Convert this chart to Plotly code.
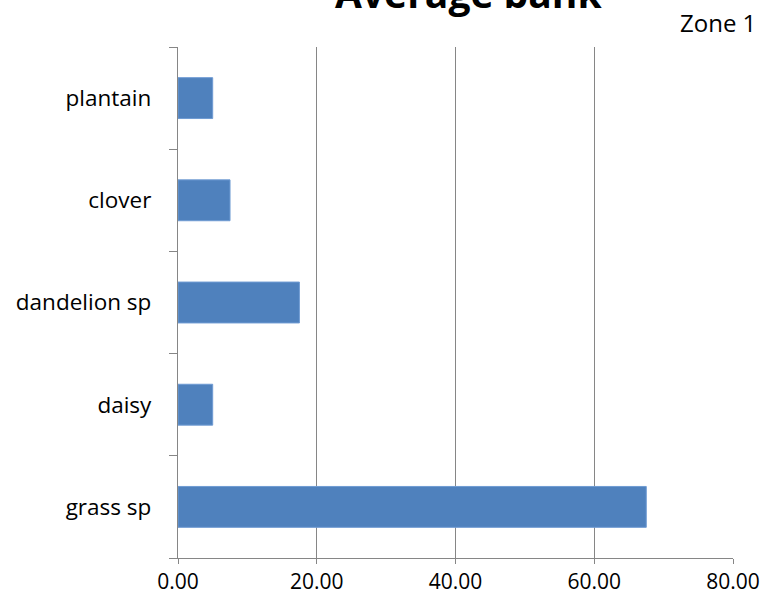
import plotly.graph_objects as go

# Plant species cover, bottom to top
species = ["grass sp", "daisy", "dandelion sp", "clover", "plantain"]
cover = [67.5, 5.0, 17.5, 7.5, 5.0]
series_name = "Zone 1"
chart_title = "Average bank"
x_ticks = [0, 20, 40, 60, 80]
x_tick_labels = ["0.00", "20.00", "40.00", "60.00", "80.00"]

axis_grey = "#868686"
font_family = "Open Sans, sans-serif"

fig = go.Figure(
    go.Bar(
        x=cover,
        y=species,
        orientation="h",
        name=series_name,
        width=0.4,
        marker=dict(color="#4F81BD", line=dict(color="#6F9BD3", width=1)),
    )
)

fig.update_layout(
    width=765,
    height=606,
    margin=dict(l=178, r=32, t=47, b=48, autoexpand=False),
    paper_bgcolor="white",
    plot_bgcolor="white",
    showlegend=False,
    font=dict(family=font_family, size=20, color="black"),
    bargap=0.6,
)

fig.update_xaxes(
    range=[0, 80],
    tickvals=x_ticks,
    ticktext=x_tick_labels,
    showgrid=True,
    gridcolor=axis_grey,
    gridwidth=1.3,
    showline=True,
    linecolor=axis_grey,
    linewidth=1.3,
    ticks="outside",
    ticklen=5,
    tickcolor=axis_grey,
    zeroline=False,
    automargin=False,
    tickfont=dict(size=21),
)

fig.update_yaxes(
    type="category",
    categoryorder="array",
    categoryarray=species,
    showgrid=False,
    showline=True,
    linecolor=axis_grey,
    linewidth=1.3,
    ticks="outside",
    ticklen=8,
    tickcolor=axis_grey,
    tickson="boundaries",
    ticklabelstandoff=21,
    automargin=False,
    tickfont=dict(size=22.5),
)

# Title sits above the plot area, partly beyond the top edge
fig.add_annotation(
    text="<b>" + chart_title + "</b>",
    xref="paper", yref="paper",
    x=0.523, y=1.0,
    yshift=26,
    xanchor="center", yanchor="bottom",
    showarrow=False,
    font=dict(size=39, family=font_family, color="black"),
)

# Series label in the top-right corner
fig.add_annotation(
    text=series_name,
    xref="paper", yref="paper",
    x=1.0, y=1.0,
    xshift=25, yshift=25,
    xanchor="right", yanchor="middle",
    showarrow=False,
    font=dict(size=24, family=font_family, color="black"),
)

fig.write_html("out.html")
